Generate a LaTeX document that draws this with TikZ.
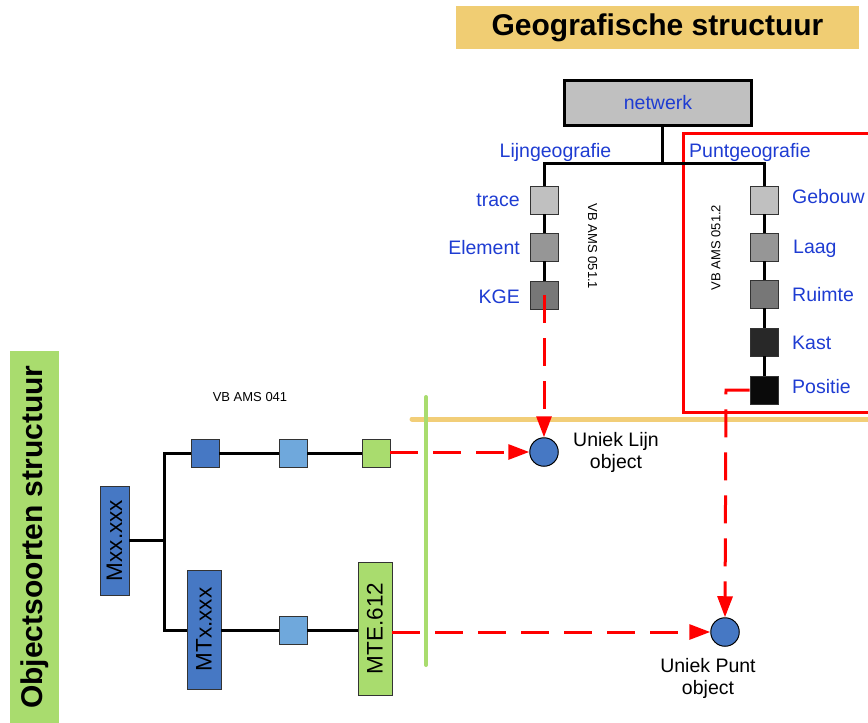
\documentclass[tikz,border=0pt]{standalone}
\usepackage{fontspec}
\usepackage{graphicx}
\setmainfont{Liberation Sans}
\usetikzlibrary{arrows.meta}
\definecolor{titley}{RGB}{240,205,115}
\definecolor{lineor}{RGB}{242,206,120}
\definecolor{greenb}{RGB}{169,220,110}
\definecolor{dblue}{RGB}{70,120,196}
\definecolor{lblue}{RGB}{111,168,220}
\definecolor{txtblue}{RGB}{30,60,210}
\definecolor{ga}{RGB}{192,192,192}
\definecolor{gb}{RGB}{150,150,150}
\definecolor{gc}{RGB}{119,119,119}
\definecolor{gd}{RGB}{40,40,40}
\definecolor{ge}{RGB}{10,10,10}
\definecolor{redl}{RGB}{255,0,0}
\begin{document}
\begin{tikzpicture}[x=1pt,y=-1pt,
  sq/.style={draw=black!80,line width=0.9pt,minimum size=28pt,inner sep=0pt},
  lbl/.style={text=txtblue,font=\fontsize{19.5}{22}\selectfont,inner sep=0pt},
  vb/.style={font=\fontsize{13}{15}\selectfont,inner sep=0pt},
  blk/.style={font=\fontsize{19.5}{22}\selectfont,inner sep=0pt,align=center},
  tree/.style={line width=3pt},
  link/.style={draw=redl,line width=3pt,dash pattern=on 28pt off 15pt,-{Triangle[length=21pt,width=15pt]}},
  rbox/.style={draw=black!80,line width=0.9pt,inner sep=0pt,font=\fontsize{22.5}{24}\selectfont},
  obj/.style={circle,draw=black,line width=1pt,fill=dblue,minimum size=28.5pt,inner sep=0pt}
]
\useasboundingbox (0,0) rectangle (868,723);

% titles
\node[fill=titley,minimum width=403pt,minimum height=43pt,inner sep=0pt,font=\bfseries\fontsize{30}{32}\selectfont] (title) at (657.5,27.5) {Geografische structuur};
\node[fill=greenb,minimum width=49pt,minimum height=372pt,inner sep=0pt,font=\bfseries\fontsize{30}{32}\selectfont] (banner) at (34.5,537) {\rotatebox{90}{Objectsoorten structuur}};

% red frame
\draw[redl,line width=3pt] (875,133) -| (683,412) -- (875,412);

% network tree
\node[draw=black,line width=3pt,fill=ga,minimum width=187pt,minimum height=45pt,inner sep=0pt,text=txtblue,font=\fontsize{19.5}{22}\selectfont] (netwerk) at (658,103) {netwerk};
\coordinate (j) at (662,163);
\node[sq,fill=ga] (trace) at (544,200) {};
\node[sq,fill=gb] (elem) at (544,247) {};
\node[sq,fill=gc] (kge) at (544,295) {};
\node[sq,fill=ga] (gebouw) at (764,200) {};
\node[sq,fill=gb] (laag) at (764,247) {};
\node[sq,fill=gc] (ruimte) at (764,294) {};
\node[sq,fill=gd] (kast) at (764,342) {};
\node[sq,fill=ge] (positie) at (764,390) {};
\draw[tree] (netwerk.south -| j) -- (j);
\draw[tree] (trace.north) |- (j) -| (gebouw.north);
\draw[tree] (trace.south) -- (elem.north);
\draw[tree] (elem.south) -- (kge.north);
\draw[tree] (gebouw.south) -- (laag.north);
\draw[tree] (laag.south) -- (ruimte.north);
\draw[tree] (ruimte.south) -- (kast.north);
\draw[tree] (kast.south) -- (positie.north);

\node[lbl,anchor=base] (lijn) at (555.5,157) {Lijngeografie};
\node[lbl,anchor=base west] (punt) at (689,157) {Puntgeografie};
\node[lbl,anchor=base east] (ltrace) at (520,206) {trace};
\node[lbl,anchor=base east] (lelem) at (520,254) {Element};
\node[lbl,anchor=base east] (lkge) at (520,303) {KGE};
\node[lbl,anchor=base west] (lgebouw) at (792,203) {Gebouw};
\node[lbl,anchor=base west] (llaag) at (793,253) {Laag};
\node[lbl,anchor=base west] (lruimte) at (792,301) {Ruimte};
\node[lbl,anchor=base west] (lkast) at (792,349) {Kast};
\node[lbl,anchor=base west] (lpositie) at (792,393) {Positie};

\node[vb] (vb1) at (592.5,246.5) {\rotatebox{-90}{VB AMS 051.1}};
\node[vb] (vb2) at (716,247.5) {\rotatebox{90}{VB AMS 051.2}};
\node[vb] (vb3) at (250,397.5) {VB AMS 041};

% separator
\draw[lineor,line width=5pt,line cap=round] (412,419) -- (875,419);

% object tree
\node[rbox,fill=dblue,minimum width=29pt,minimum height=109pt] (mxx) at (114.5,540.5) {\rotatebox{90}{Mxx.xxx}};
\node[rbox,fill=dblue,minimum width=34pt,minimum height=119pt] (mtx) at (204,629.5) {\rotatebox{90}{MTx.xxx}};
\node[rbox,fill=greenb,minimum width=34pt,minimum height=133pt] (mte) at (375,628.5) {\rotatebox{90}{MTE.612}};
\node[sq,fill=dblue] (sqa) at (205,453) {};
\node[sq,fill=lblue] (sqb) at (293,453) {};
\node[sq,fill=greenb] (sqc) at (376,453) {};
\node[sq,fill=lblue] (sqd) at (293,630) {};
\coordinate (tj) at (164,540.5);
\draw[tree] (mxx.east) -- (tj);
\draw[tree] (sqa.west) -| (tj) |- (mtx.west |- sqd);
\draw[tree] (sqa.east) -- (sqb.west);
\draw[tree] (sqb.east) -- (sqc.west);
\draw[tree] (mtx.east |- sqd) -- (sqd.west);
\draw[tree] (sqd.east) -- (mte.west |- sqd);

% unique objects
\node[obj] (c1) at (544,452) {};
\node[obj] (c2) at (725,632) {};
\node[blk] (t1) at (616,452) {Uniek Lijn\\object};
\node[blk] (t2) at (708,678) {Uniek Punt\\object};

\coordinate (pc) at (726,390);
\draw[link] (kge.center) -- (c1.north);
\draw[link] (positie.west) -- (pc) -- (c2.north);
\draw[link] (sqc.east |- c1) -- (c1.west);
\draw[link] (mte.east |- c2) -- (c2.west);

\draw[greenb,line width=4pt,line cap=round] (426,397) -- (426,665);
\end{tikzpicture}
\end{document}
